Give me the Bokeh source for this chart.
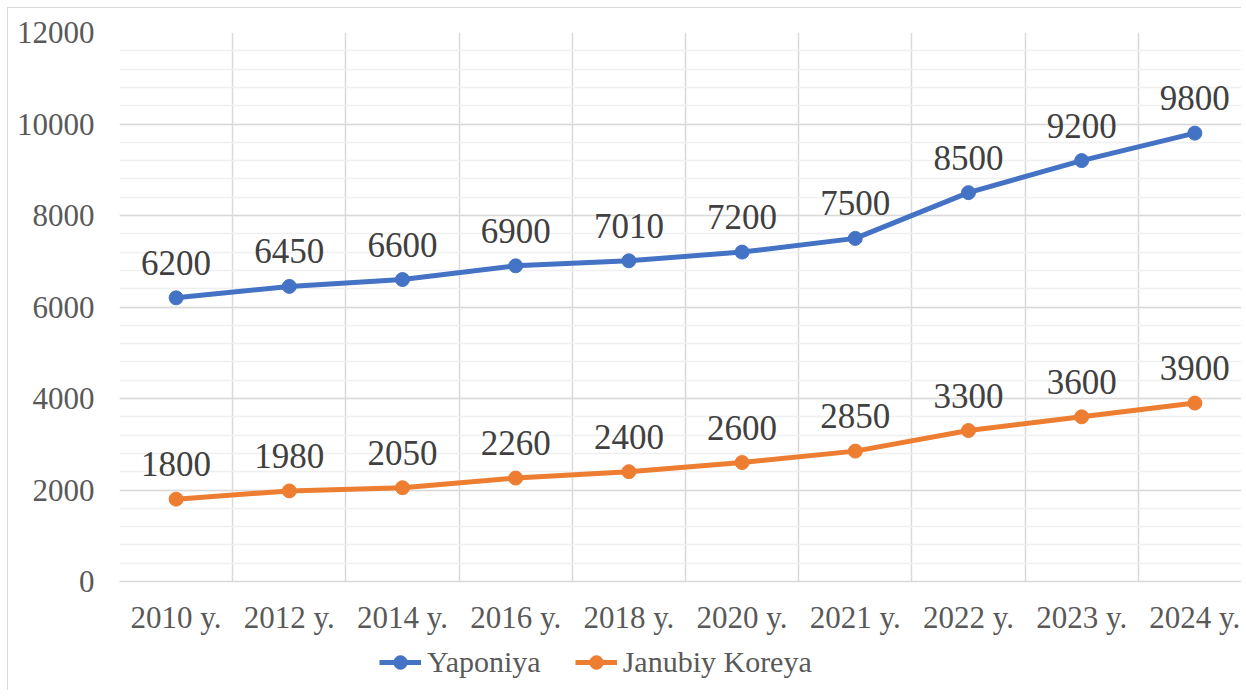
from bokeh.plotting import figure
from bokeh.layouts import column
from bokeh.models import (ColumnDataSource, FixedTicker, SingleIntervalTicker, Range1d,
                          Legend, LegendItem)
from bokeh.core.properties import value
from bokeh.embed import file_html
from bokeh.resources import INLINE

categories = ["2010 y.", "2012 y.", "2014 y.", "2016 y.", "2018 y.",
              "2020 y.", "2021 y.", "2022 y.", "2023 y.", "2024 y."]
yaponiya = [6200, 6450, 6600, 6900, 7010, 7200, 7500, 8500, 9200, 9800]
janubiy_koreya = [1800, 1980, 2050, 2260, 2400, 2600, 2850, 3300, 3600, 3900]
series_names = ["Yaponiya", "Janubiy Koreya"]

FONT = "Liberation Serif"
BLUE = "#4472C4"
ORANGE = "#ED7D31"

xs = [i + 0.5 for i in range(len(categories))]
series = [(series_names[0], yaponiya, BLUE), (series_names[1], janubiy_koreya, ORANGE)]

p = figure(width=1233, height=634, output_backend="svg", toolbar_location=None,
           x_range=Range1d(0, 9.912), y_range=Range1d(0, 12000),
           min_border_left=111, min_border_top=24, min_border_bottom=61, min_border_right=0)
p.outline_line_color = None
p.background_fill_color = "white"
p.border_fill_color = "white"

# axes
p.xaxis.ticker = FixedTicker(ticks=xs)
p.xaxis.major_label_overrides = {x: c for x, c in zip(xs, categories)}
p.xaxis.axis_line_color = "#d9d9d9"
p.xaxis.axis_line_width = 1.5
p.xaxis.major_tick_line_color = None
p.xaxis.minor_tick_line_color = None
p.xaxis.major_tick_out = 0
p.xaxis.minor_tick_out = 0
p.xaxis.axis_label_standoff = 0
p.xaxis.major_label_text_font = FONT
p.xaxis.major_label_text_font_size = "31px"
p.xaxis.major_label_text_color = "#595959"
p.xaxis.major_label_standoff = 18

p.yaxis.ticker = SingleIntervalTicker(interval=2000, num_minor_ticks=5)
p.yaxis.axis_line_color = None
p.yaxis.major_tick_line_color = None
p.yaxis.minor_tick_line_color = None
p.yaxis.major_tick_out = 0
p.yaxis.minor_tick_out = 0
p.yaxis.axis_label_standoff = 0
p.yaxis.major_label_text_font = FONT
p.yaxis.major_label_text_font_size = "31px"
p.yaxis.major_label_text_color = "#595959"
p.yaxis.major_label_standoff = 25

# grids
p.xgrid.ticker = FixedTicker(ticks=list(range(0, 11)))
p.xgrid.grid_line_color = "#d9d9d9"
p.xgrid.grid_line_width = 1.5
p.ygrid.grid_line_color = "#d9d9d9"
p.ygrid.grid_line_width = 1.5
p.ygrid.minor_grid_line_color = "#f0f0f0"
p.ygrid.minor_grid_line_width = 1.5

for name, vals, col in series:
    src = ColumnDataSource(dict(x=xs, y=vals, label=[str(v) for v in vals]))
    p.line("x", "y", source=src, line_color=col, line_width=5)
    p.scatter("x", "y", source=src, size=14, fill_color=col, line_color=col)
    p.text("x", "y", text="label", source=src, text_font=value("'Liberation Serif', serif"),
           text_font_size="35px", text_align="center", text_baseline="alphabetic",
           y_offset=-35, text_color="#404040")

# legend strip below the chart (its series sit outside the strip's visible range)
lg = figure(width=1233, height=48, output_backend="svg", toolbar_location=None,
            x_range=Range1d(0, 9.912), y_range=Range1d(-3, -2),
            x_axis_location=None, y_axis_location=None,
            min_border=0, min_border_left=0, min_border_right=0,
            min_border_top=0, min_border_bottom=0)
lg.outline_line_color = None
lg.grid.visible = False
lg.background_fill_color = "white"
lg.border_fill_color = "white"

items = []
for name, vals, col in series:
    src = ColumnDataSource(dict(x=xs, y=vals))
    l = lg.line("x", "y", source=src, line_color=col, line_width=5)
    s = lg.scatter("x", "y", source=src, size=14, fill_color=col, line_color=col)
    items.append(LegendItem(label=name, renderers=[l, s]))

legend = Legend(items=items, orientation="horizontal", location=(260, 11),
                label_text_font=FONT, label_text_font_size="30px", label_text_color="#595959",
                glyph_width=42, glyph_height=34, label_standoff=6, spacing=34,
                padding=0, margin=0, border_line_color=None, background_fill_alpha=0)
lg.add_layout(legend, "center")

layout = column(p, lg, spacing=0)
layout.styles = {"margin-left": "7px", "margin-top": "7px",
                 "border-left": "1.5px solid #d9d9d9", "border-top": "1.5px solid #d9d9d9"}

open("out.html", "w").write(file_html(layout, INLINE))
